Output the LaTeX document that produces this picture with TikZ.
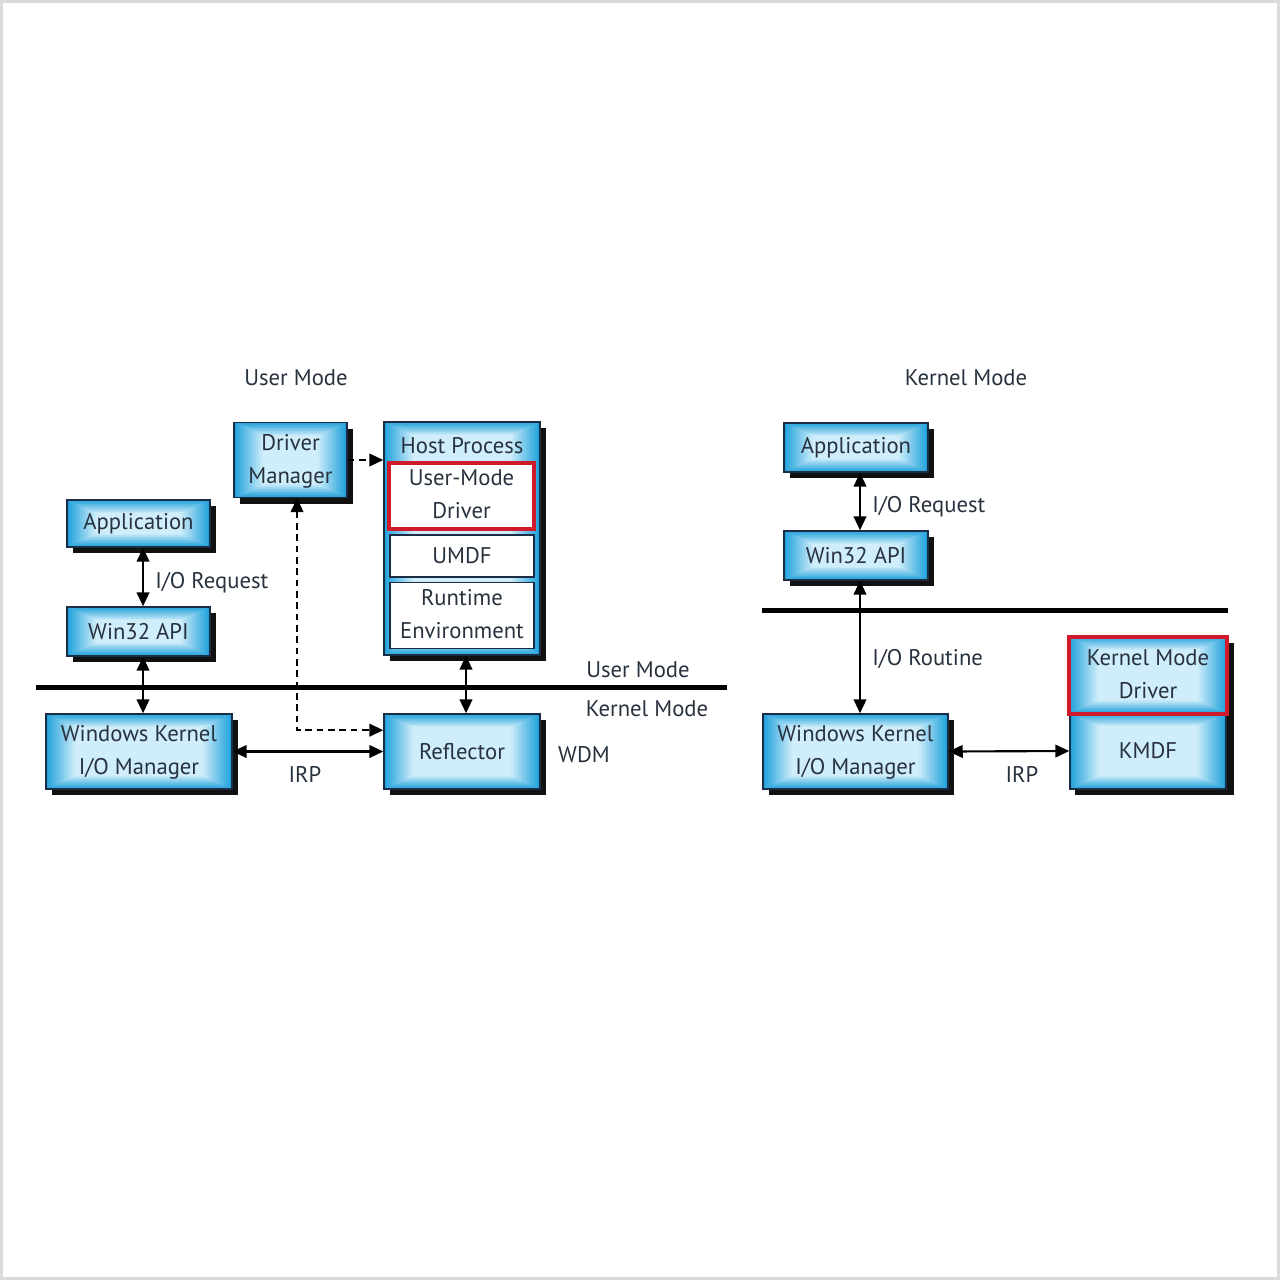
\documentclass[tikz,border=0pt]{standalone}
\usepackage{fontspec}
\setmainfont{PT Sans}
\usetikzlibrary{arrows.meta,shadows,calc}
\definecolor{bxin}{HTML}{CFEDFA}
\definecolor{bxout}{HTML}{1FA1DB}
\definecolor{bxline}{HTML}{1B2D45}
\definecolor{txt}{HTML}{28323F}
\definecolor{redb}{HTML}{D0192B}
\definecolor{shd}{HTML}{111111}
\definecolor{frm}{HTML}{DADADA}
\newcommand\bxfont{\fontsize{17pt}{24.75pt}\selectfont}
\tikzset{
  sz/.style 2 args={minimum width={#1*0.75pt}, minimum height={#2*0.75pt}},
  rectgrad/.style={path picture={
    \foreach \i in {0,...,18} {
      \pgfmathtruncatemacro\pc{100-\i*100/18}
      \fill[bxout!\pc!bxin]
        ([xshift={\i*1.2pt}, yshift={\i*0.55pt}]path picture bounding box.south west)
        rectangle
        ([xshift={-\i*1.2pt}, yshift={-\i*0.55pt}]path picture bounding box.north east);
    }}},
  flatbox/.style={draw=bxline, line width=1.1pt, rectgrad,
    text=txt, align=center, font=\bxfont, inner sep=0pt},
  box/.style={flatbox,
    general shadow={fill=shd, shadow xshift=4.5pt, shadow yshift=-4.5pt}},
  wbox/.style={draw=bxline, line width=1.1pt, fill=white, text=txt, align=center,
    font=\bxfont, inner sep=0pt},
  rbox/.style={draw=redb, line width=3pt, fill=white, text=txt, align=center,
    font=\bxfont, inner sep=0pt},
  lbl/.style={text=txt, font=\bxfont, inner sep=0pt},
  arr/.style={line width=1.6pt, {Triangle[length=10.5pt,width=9.5pt]}-{Triangle[length=10.5pt,width=9.5pt]}},
  sarr/.style={line width=1.6pt, -{Triangle[length=10.5pt,width=9.5pt]}},
  sepline/.style={line width=3.75pt, line cap=butt},
  dsh/.style={line width=1.7pt, dash pattern=on 5pt off 3.5pt}
}
\begin{document}
\begin{tikzpicture}[x=0.75pt,y=-0.75pt]
\useasboundingbox (0,0) rectangle (1280,1280);
\fill[white] (0,0) rectangle (1280,1280);
\draw[frm, line width=2.25pt] (1.5,1.5) rectangle (1278.5,1278.5);

% ---------- left: User Mode ----------
\node[lbl] (tUM) at (296,378) {User Mode};

\node[box, sz={143}{47}] (appL) at (138.5,523.5) {Application};
\node[box, sz={143}{49}] (winL) at (138.5,631.5) {Win32 API};
\node[box, sz={113}{75}] (drvm) at (290.5,460) {\strut Driver\\\strut Manager};

\node[box, sz={156}{233}] (host) at (462,538.5) {};
\node[lbl] (hostt) at (462,446) {Host Process};
\node[rbox, sz={145}{63}] (umd) at (461.5,495.5) {\strut User-Mode\\\strut Driver};
\node[wbox, sz={144}{42}] (umdf) at (462,556) {UMDF};
\node[wbox, sz={144}{65}] (rte) at (462,615.5) {\strut Runtime\\\strut Environment};

\node[box, sz={186}{75}] (wkL) at (139,751.5) {\strut Windows Kernel\\\strut I/O Manager};
\node[box, sz={156}{75}] (refl) at (462,751.5) {Reflector};

\draw[sepline] (36,687) -- (727,687);

\node[lbl, anchor=west] (ioreqL) at (155,583) {I/O Request};
\node[lbl] (umL) at (638,670) {User Mode};
\node[lbl] (kmL) at (647,709) {Kernel Mode};
\node[lbl] (wdm) at (584,755) {WDM};
\node[lbl] (irpL) at (305,774) {IRP};

\draw[arr] ([xshift=3.4pt]appL.south) -- ([xshift=3.4pt]winL.north);
\draw[arr] ([xshift=3.4pt]winL.south) -- ([xshift=3.4pt]winL.south |- wkL.north);
\draw[arr] ([xshift=3pt]host.south) -- ([xshift=3pt]refl.north);
\draw[arr] (wkL.east) -- (refl.west);
\draw[dsh, sarr] (drvm.east) -- (drvm.east -| host.west);
\draw[dsh, arr] ([xshift=4.9pt]drvm.south) |- ([yshift=16pt]refl.west);

% ---------- right: Kernel Mode ----------
\node[lbl] (tKM) at (966,378) {Kernel Mode};

\node[box, sz={144}{49}] (appR) at (856,447.5) {Application};
\node[box, sz={144}{49}] (winR) at (856,555.5) {Win32 API};

\draw[sepline] (762,610) -- (1228,610);

\node[box, sz={185}{75}] (wkR) at (855.5,751.5) {\strut Windows Kernel\\\strut I/O Manager};

\fill[shd] (1074.5,643) rectangle (1234,795);
\node[flatbox, sz={156}{76}] (kmdf) at (1148,751) {KMDF};
\node[flatbox, draw=redb, line width=3pt, sz={158}{77}] (kmd) at (1148,675) {\strut Kernel Mode\\\strut Driver};

\node[lbl, anchor=west] (ioreqR) at (872,507) {I/O Request};
\node[lbl, anchor=west] (iorout) at (872,659) {I/O Routine};
\node[lbl] (irpR) at (1022,774) {IRP};

\draw[arr] ([xshift=3pt]appR.south) -- ([xshift=3pt]winR.north);
\draw[arr] ([xshift=3pt]winR.south) -- ([xshift=3pt]winR.south |- wkR.north);
\draw[arr] (wkR.east) -- (kmdf.west);
\end{tikzpicture}
\end{document}
